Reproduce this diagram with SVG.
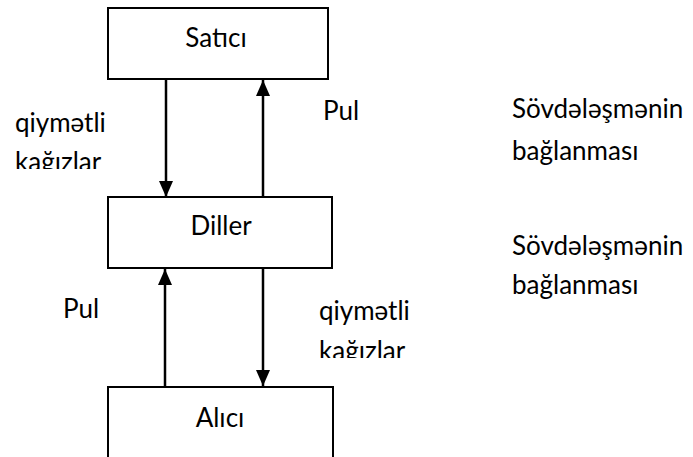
<svg xmlns="http://www.w3.org/2000/svg" width="693" height="457" viewBox="0 0 693 457">
<style>
.box{fill:#fff;stroke:#000;stroke-width:2}
.t{font-family:Lato,"Liberation Sans",sans-serif;font-size:26px;fill:#000}
.c{text-anchor:middle}
.a{stroke:#000;stroke-width:2.5;fill:none}
</style>
<defs>
<marker id="ah" markerWidth="16" markerHeight="14" refX="16" refY="7" viewBox="0 0 16 14" orient="auto" markerUnits="userSpaceOnUse">
<path d="M0,0 L16,7 L0,14 Z" fill="#000"/>
</marker>
<clipPath id="clipL"><rect x="0" y="0" width="693" height="169"/></clipPath>
<clipPath id="clipR"><rect x="0" y="0" width="693" height="358"/></clipPath>
</defs>
<rect width="693" height="457" fill="#fff"/>
<g id="satici">
<rect class="box" x="108" y="8" width="220" height="71"/>
<text class="t c" x="216" y="47">Satıcı</text>
</g>
<g id="diller">
<rect class="box" x="108" y="197" width="224" height="71"/>
<text class="t c" x="221" y="235">Diller</text>
</g>
<g id="alici">
<rect class="box" x="108" y="387" width="225" height="80"/>
<text class="t c" x="220" y="427">Alıcı</text>
</g>
<g id="connectors">
<line class="a" x1="166" y1="79" x2="166" y2="197" marker-end="url(#ah)"/>
<line class="a" x1="263" y1="197" x2="263" y2="80" marker-end="url(#ah)"/>
<line class="a" x1="165" y1="387" x2="165" y2="269" marker-end="url(#ah)"/>
<line class="a" x1="263" y1="268" x2="263" y2="386" marker-end="url(#ah)"/>
</g>
<g id="labels">
<text class="t" x="15" y="132">qiymətli</text>
<text class="t" x="15" y="171" clip-path="url(#clipL)">kağızlar</text>
<text class="t" x="323" y="120">Pul</text>
<text class="t" x="63" y="318">Pul</text>
<text class="t" x="319" y="320">qiymətli</text>
<text class="t" x="319" y="360" clip-path="url(#clipR)">kağızlar</text>
<text class="t" x="512" y="118">Sövdələşmənin</text>
<text class="t" x="512" y="160">bağlanması</text>
<text class="t" x="512" y="255">Sövdələşmənin</text>
<text class="t" x="512" y="294">bağlanması</text>
</g>
</svg>
